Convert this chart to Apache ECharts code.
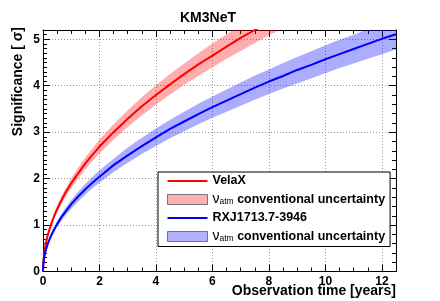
<!DOCTYPE html>
<html>
<head>
<meta charset="utf-8">
<script src="https://cdn.jsdelivr.net/npm/echarts@6/dist/echarts.min.js"></script>
<style>
html,body{margin:0;padding:0;background:#fff;}
#chart{width:440px;height:301px;}
</style>
</head>
<body>
<div id="chart"></div>
<script>
// ---- data ----
var velaT    = [0, 0.01, 0.02, 0.04, 0.06, 0.1, 0.15, 0.2, 0.3, 0.4, 0.5, 0.65, 0.8, 1, 1.25, 1.5, 1.75, 2, 2.5, 3, 3.5, 4, 4.5, 5, 5.5, 6, 6.5, 7, 7.5, 8, 8.5];
var velaSig  = [0, 0.19, 0.27, 0.38, 0.47, 0.60, 0.74, 0.85, 1.04, 1.20, 1.34, 1.53, 1.70, 1.90, 2.12, 2.33, 2.51, 2.69, 3.00, 3.29, 3.56, 3.80, 4.03, 4.25, 4.46, 4.65, 4.84, 5.03, 5.20, 5.37, 5.54];
var velaLow  = [0, 0.18, 0.25, 0.36, 0.44, 0.57, 0.70, 0.80, 0.98, 1.14, 1.27, 1.45, 1.61, 1.80, 2.01, 2.20, 2.38, 2.54, 2.84, 3.11, 3.36, 3.59, 3.81, 4.02, 4.21, 4.40, 4.58, 4.75, 4.92, 5.08, 5.24];
var velaHigh = [0, 0.20, 0.28, 0.40, 0.49, 0.63, 0.78, 0.90, 1.10, 1.27, 1.42, 1.62, 1.79, 2.01, 2.24, 2.46, 2.65, 2.84, 3.17, 3.47, 3.75, 4.01, 4.25, 4.48, 4.70, 4.91, 5.11, 5.30, 5.49, 5.67, 5.84];

var rxjT     = [0, 0.01, 0.02, 0.04, 0.06, 0.1, 0.15, 0.2, 0.3, 0.4, 0.5, 0.65, 0.8, 1, 1.25, 1.5, 1.75, 2, 2.5, 3, 3.5, 4, 4.5, 5, 5.5, 6, 6.5, 7, 7.5, 8, 8.5, 9, 9.5, 10, 10.5, 11, 11.5, 12, 12.5];
var rxjSig   = [0, 0.15, 0.20, 0.29, 0.35, 0.46, 0.56, 0.65, 0.79, 0.91, 1.02, 1.17, 1.29, 1.45, 1.62, 1.77, 1.91, 2.04, 2.29, 2.50, 2.70, 2.89, 3.07, 3.23, 3.39, 3.54, 3.68, 3.82, 3.96, 4.09, 4.21, 4.34, 4.45, 4.57, 4.68, 4.79, 4.90, 5.01, 5.11];
var rxjLow   = [0, 0.14, 0.19, 0.27, 0.33, 0.43, 0.52, 0.60, 0.74, 0.86, 0.96, 1.09, 1.21, 1.35, 1.51, 1.66, 1.79, 1.91, 2.14, 2.34, 2.53, 2.70, 2.87, 3.02, 3.17, 3.31, 3.44, 3.57, 3.70, 3.82, 3.94, 4.05, 4.16, 4.27, 4.38, 4.48, 4.58, 4.68, 4.78];
var rxjHigh  = [0, 0.15, 0.22, 0.31, 0.38, 0.49, 0.60, 0.69, 0.84, 0.97, 1.09, 1.24, 1.38, 1.54, 1.72, 1.89, 2.04, 2.18, 2.43, 2.67, 2.88, 3.08, 3.27, 3.44, 3.61, 3.77, 3.92, 4.07, 4.22, 4.35, 4.49, 4.62, 4.74, 4.87, 4.99, 5.10, 5.22, 5.33, 5.44];

var xTicks = [0, 2, 4, 6, 8, 10, 12];
var yTicks = [0, 1, 2, 3, 4, 5];

var titleText = 'KM3NeT';
var xName = 'Observation time [years]';
var yName = 'Significance [ \u03C3]';
var nameVela = 'VelaX';
var nameRxj = 'RXJ1713.7-3946';
var bandLabel = 'conventional uncertainty';

// ---- build ----
function pairs(t, v) { return t.map(function (x, i) { return [x, v[i]]; }); }
function triples(t, lo, hi) { return t.map(function (x, i) { return [x, lo[i], hi[i]]; }); }

function bandRenderer(t, lo, hi, fill) {
  return function (params, api) {
    if (params.dataIndex !== 0) return null;
    var pts = [];
    for (var i = 0; i < t.length; i++) pts.push(api.coord([t[i], hi[i]]));
    for (var j = t.length - 1; j >= 0; j--) pts.push(api.coord([t[j], lo[j]]));
    return {type: 'polygon', shape: {points: pts}, style: {fill: fill}};
  };
}

var FONT = "'Liberation Sans', Arial, Helvetica, sans-serif";
var chart = echarts.init(document.getElementById('chart'), null, {renderer: 'canvas'});

var tickCommon = {show: true, inside: true, length: 7, lineStyle: {color: '#000', width: 1}};
var minorCommon = {show: true, length: 4, lineStyle: {color: '#000', width: 1}};
var axisLineCommon = {show: true, onZero: false, lineStyle: {color: '#000', width: 1}};
var splitCommon = {show: true, lineStyle: {color: '#999', width: 1, type: [1, 2]}};

var option = {
  animation: false,
  backgroundColor: '#fff',
  textStyle: {fontFamily: FONT},
  title: {
    text: titleText, left: 180, top: 11, padding: 0,
    textStyle: {fontFamily: FONT, fontSize: 14, fontWeight: 'bold', color: '#000'}
  },
  graphic: [{
    type: 'text', right: 44, top: 284, silent: true,
    style: {text: xName, font: "bold 14px 'Liberation Sans', Arial, sans-serif", fill: '#000'}
  }],
  grid: {left: 43, right: 44, top: 30, bottom: 29.5, containLabel: false, outerBoundsMode: 'none'},
  xAxis: [{
    type: 'value', position: 'bottom', min: 0, max: 12.5, interval: 2,
    axisLine: axisLineCommon,
    axisTick: tickCommon,
    minorTick: Object.assign({splitNumber: 4}, minorCommon),
    splitLine: splitCommon,
    axisLabel: {show: true, margin: 4, showMaxLabel: false, fontFamily: FONT, fontSize: 12, fontWeight: 'bold', color: '#000',
      formatter: function (v) { return xTicks.indexOf(v) >= 0 ? String(v) : ''; }}
  }, {
    type: 'value', position: 'top', min: 0, max: 12.5, interval: 2,
    axisLine: axisLineCommon,
    axisTick: tickCommon,
    minorTick: Object.assign({splitNumber: 4}, minorCommon),
    splitLine: {show: false},
    axisLabel: {show: false}
  }],
  yAxis: [{
    type: 'value', position: 'left', min: 0, max: 5.2, interval: 1,
    name: yName, nameLocation: 'end', nameGap: 3, nameRotate: 90,
    nameTextStyle: {fontFamily: FONT, fontSize: 14, fontWeight: 'bold', color: '#000', align: 'right', verticalAlign: 'bottom', padding: [0, 0, 18, 0]},
    axisLine: axisLineCommon,
    axisTick: tickCommon,
    minorTick: Object.assign({splitNumber: 10}, minorCommon),
    splitLine: splitCommon,
    axisLabel: {show: true, margin: 3, showMaxLabel: false, fontFamily: FONT, fontSize: 12, fontWeight: 'bold', color: '#000',
      formatter: function (v) { return yTicks.indexOf(v) >= 0 ? String(v) : ''; }}
  }, {
    type: 'value', position: 'right', min: 0, max: 5.2, interval: 1,
    axisLine: axisLineCommon,
    axisTick: tickCommon,
    minorTick: Object.assign({splitNumber: 5}, minorCommon),
    splitLine: {show: false},
    axisLabel: {show: false}
  }],
  legend: {
    orient: 'vertical', left: 158, top: 172, padding: [2, 5, 3, 9],
    itemGap: 4.5, itemWidth: 40, itemHeight: 10,
    borderColor: '#000', borderWidth: 1, backgroundColor: '#fff',
    selectedMode: false,
    data: [
      {name: nameVela, icon: 'path://M0,0L40,0L40,2L0,2Z', itemStyle: {color: '#ff0000'}},
      {name: 'VelaX_band', icon: 'rect', itemStyle: {color: '#ffb0b0', borderColor: '#777', borderWidth: 1}},
      {name: nameRxj, icon: 'path://M0,0L40,0L40,2L0,2Z', itemStyle: {color: '#0000ff'}},
      {name: 'RXJ_band', icon: 'rect', itemStyle: {color: '#b0b0ff', borderColor: '#777', borderWidth: 1}}
    ],
    formatter: function (n) {
      if (n === 'VelaX_band' || n === 'RXJ_band') {
        return '{nu|\u03BD}{sub|atm}{b| ' + bandLabel + '}';
      }
      return '{b|' + n + '}';
    },
    textStyle: {
      fontFamily: FONT, fontSize: 12.5, fontWeight: 'bold', color: '#000', lineHeight: 14,
      rich: {
        b: {fontFamily: FONT, fontSize: 12.5, fontWeight: 'bold', color: '#000', lineHeight: 14, verticalAlign: 'middle'},
        nu: {fontFamily: FONT, fontSize: 14, fontWeight: 'normal', color: '#000', lineHeight: 14, verticalAlign: 'middle'},
        sub: {fontFamily: FONT, fontSize: 8.5, fontWeight: 'normal', color: '#000', lineHeight: 8, verticalAlign: 'bottom'}
      }
    }
  },
  series: [
    {name: 'VelaX_band', type: 'custom', clip: true, silent: true, z: 1,
      data: triples(velaT, velaLow, velaHigh), encode: {x: 0, y: [1, 2]},
      itemStyle: {color: '#ffb0b0'},
      renderItem: bandRenderer(velaT, velaLow, velaHigh, 'rgba(255,0,0,0.32)')},
    {name: 'RXJ_band', type: 'custom', clip: true, silent: true, z: 1,
      data: triples(rxjT, rxjLow, rxjHigh), encode: {x: 0, y: [1, 2]},
      itemStyle: {color: '#b0b0ff'},
      renderItem: bandRenderer(rxjT, rxjLow, rxjHigh, 'rgba(0,0,255,0.32)')},
    {name: nameVela, type: 'line', data: pairs(velaT, velaSig), symbol: 'none', smooth: false,
      lineStyle: {color: '#ff0000', width: 2}, itemStyle: {color: '#ff0000'}, z: 3},
    {name: nameRxj, type: 'line', data: pairs(rxjT, rxjSig), symbol: 'none', smooth: false,
      lineStyle: {color: '#0000ff', width: 2}, itemStyle: {color: '#0000ff'}, z: 3}
  ]
};
chart.setOption(option);
</script>
</body>
</html>
